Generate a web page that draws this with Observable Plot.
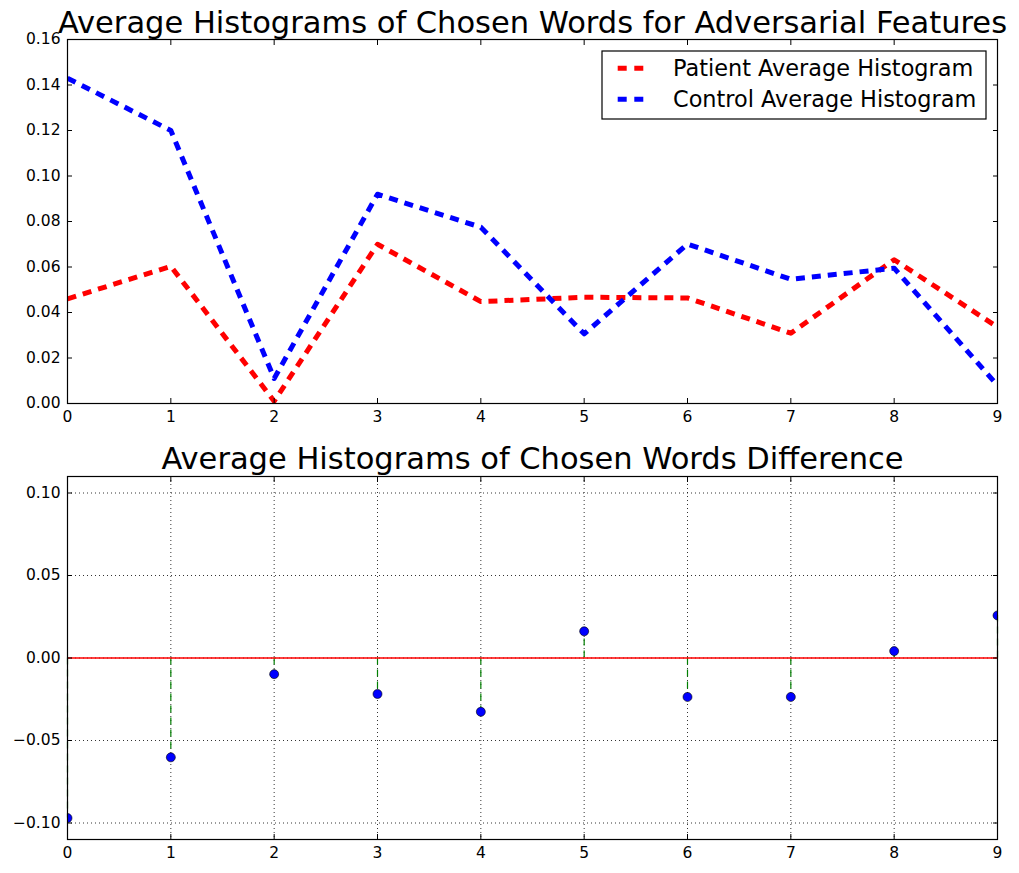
<!DOCTYPE html>
<html><head><meta charset="utf-8">
<script src="https://cdn.jsdelivr.net/npm/d3@7"></script>
<script src="https://cdn.jsdelivr.net/npm/@observablehq/plot@0.6"></script>
<style>
html,body{margin:0;padding:0;background:#fff;}
#wrap{position:relative;width:1019px;height:873px;font-family:"DejaVu Sans";}
#wrap svg{display:block;}
</style>
</head><body>
<div id="wrap"></div>
<script>
// ---- data ----
const xs = [0, 1, 2, 3, 4, 5, 6, 7, 8, 9];
const patient = [0.0460, 0.0603, 0.0010, 0.0700, 0.0448, 0.0467, 0.0464, 0.0309, 0.0632, 0.0336];
const control = [0.1430, 0.1200, 0.0110, 0.0920, 0.0775, 0.0306, 0.0701, 0.0546, 0.0595, 0.0080];
const difference = [-0.0970, -0.0602, -0.0098, -0.0218, -0.0326, 0.0162, -0.0236, -0.0236, 0.0042, 0.0258];
const topYTicks = [0, 0.02, 0.04, 0.06, 0.08, 0.10, 0.12, 0.14, 0.16];
const bottomYTicks = [-0.10, -0.05, 0, 0.05, 0.10];
const seriesNames = ["Patient Average Histogram", "Control Average Histogram"];
const seriesColors = ["#ff0000", "#0000ff"];
const titles = ["Average Histograms of Chosen Words for Adversarial Features", "Average Histograms of Chosen Words Difference"];

const rows = xs.map((x, i) => ({x, patient: patient[i], control: control[i], diff: difference[i]}));

const fontStyle = {fontFamily: "DejaVu Sans", fontSize: "15.5px", color: "#000", background: "#fff", overflow: "visible"};

function axesMarks(xTicks, yTicks) {
  const blank = () => "";
  return [
    Plot.frame({stroke: "#000", strokeWidth: 1.2}),
    Plot.axisX(xTicks, {anchor: "bottom", tickSize: -5, tickFormat: blank, label: null}),
    Plot.axisX(xTicks, {anchor: "top", tickSize: -5, tickFormat: blank, label: null}),
    Plot.axisY(yTicks, {anchor: "left", tickSize: -5, tickFormat: blank, label: null}),
    Plot.axisY(yTicks, {anchor: "right", tickSize: -5, tickFormat: blank, label: null}),
    Plot.axisX(xTicks, {anchor: "bottom", tickSize: 0, tickPadding: 7, tickFormat: d3.format("d"), label: null, fontSize: 15.5}),
    Plot.axisY(yTicks, {anchor: "left", tickSize: 0, tickPadding: 7, tickFormat: d3.format(".2f"), label: null, fontSize: 15.5})
  ];
}

const chart1 = Plot.plot({
  width: 1019, height: 440,
  marginTop: 39, marginBottom: 37, marginLeft: 67, marginRight: 22,
  style: fontStyle,
  x: {domain: [0, 9]},
  y: {domain: [0, 0.16]},
  marks: [
    Plot.line(rows, {x: "x", y: "patient", stroke: seriesColors[0], strokeWidth: 5, strokeDasharray: "9,7", strokeLinecap: "butt", strokeLinejoin: "round", clip: true}),
    Plot.line(rows, {x: "x", y: "control", stroke: seriesColors[1], strokeWidth: 5, strokeDasharray: "9,7", strokeLinecap: "butt", strokeLinejoin: "round", clip: true}),
    ...axesMarks(xs, topYTicks),
    Plot.text([titles[0]], {text: d => d, frameAnchor: "top", lineAnchor: "bottom", dy: -7, fontSize: 30.5, fill: "#000"})
  ]
});

const gridStyle = {stroke: "#000", strokeOpacity: 1, strokeWidth: 0.8, strokeDasharray: "1,3"};
const chart2 = Plot.plot({
  width: 1019, height: 433,
  marginTop: 36, marginBottom: 34, marginLeft: 67, marginRight: 22,
  style: fontStyle,
  x: {domain: [0, 9]},
  y: {domain: [-0.11, 0.11]},
  marks: [
    Plot.gridX(xs, gridStyle),
    Plot.gridY(bottomYTicks, gridStyle),
    Plot.ruleX(rows, {x: "x", y1: 0, y2: "diff", stroke: "#008000", strokeWidth: 1.2, strokeDasharray: "7,5"}),
    Plot.ruleY([0], {stroke: "#ff0000", strokeWidth: 1.5}),
    Plot.dot(rows, {x: "x", y: "diff", r: 4.5, fill: "#0000ff", stroke: "#000", strokeWidth: 0.6, clip: true}),
    ...axesMarks(xs, bottomYTicks),
    Plot.text([titles[1]], {text: d => d, frameAnchor: "top", lineAnchor: "bottom", dy: -8, fontSize: 30.5, fill: "#000"})
  ]
});

const wrap = document.getElementById("wrap");
wrap.appendChild(chart1);
wrap.appendChild(chart2);

// legend (drawn over the top chart, as in the reference)
const leg = d3.create("svg")
  .attr("width", 388).attr("height", 72)
  .style("position", "absolute").style("left", "601px").style("top", "50px")
  .style("font-family", "DejaVu Sans");
leg.append("rect").attr("x", 1).attr("y", 1).attr("width", 384).attr("height", 68)
  .attr("fill", "#fff").attr("stroke", "#000").attr("stroke-width", 1.2);
seriesNames.forEach((name, i) => {
  const cy = 18.3 + i * 31;
  leg.append("line").attr("x1", 16.7).attr("x2", 42.3).attr("y1", cy).attr("y2", cy)
    .attr("stroke", seriesColors[i]).attr("stroke-width", 5).attr("stroke-dasharray", "9,7.6");
  leg.append("text").attr("x", 72).attr("y", cy + 7.6).attr("font-size", 22.4).attr("fill", "#000").text(name);
});
wrap.appendChild(leg.node());
</script>
</body></html>
